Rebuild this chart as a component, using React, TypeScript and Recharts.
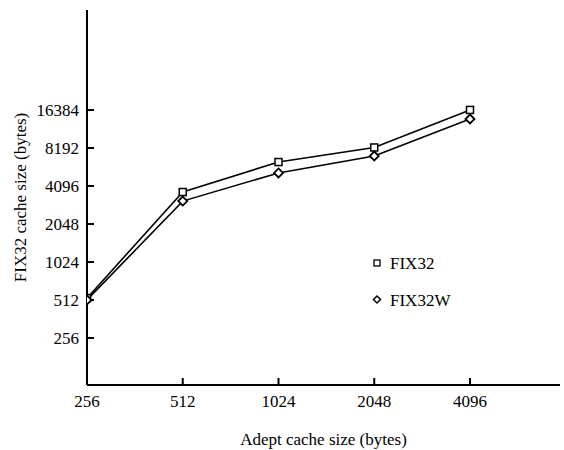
import React from 'react';
import { LineChart, Line, XAxis, YAxis, Legend } from 'recharts';

// Adept cache size (bytes) on the x axis
const adeptSizes = [256, 512, 1024, 2048, 4096];
// FIX32 cache size (bytes)
const fix32 = [530, 3670, 6340, 8270, 16400];
const fix32w = [512, 3110, 5200, 7080, 13900];

const xTicks = [256, 512, 1024, 2048, 4096];
const yTicks = [256, 512, 1024, 2048, 4096, 8192, 16384];

const xDomain = [256, 7859];
const yDomain = [108.6, 101530];

const FONT = '"Liberation Serif", "Times New Roman", serif';

const data = adeptSizes.map((x, i) => ({ x, fix32: fix32[i], fix32w: fix32w[i] }));

const SquareDot = (props: any) => {
  const { cx, cy, index } = props;
  if (cx == null || cy == null) return null;
  return (
    <rect
      key={`sq-${index}`}
      x={cx - 3.5}
      y={cy - 3.5}
      width={7}
      height={7}
      fill="#fff"
      stroke="#000"
      strokeWidth={1.5}
    />
  );
};

const DiamondDot = (props: any) => {
  const { cx, cy, index } = props;
  if (cx == null || cy == null) return null;
  return (
    <path
      key={`dm-${index}`}
      d={`M${cx},${cy - 4.5}L${cx + 4.5},${cy}L${cx},${cy + 4.5}L${cx - 4.5},${cy}Z`}
      fill="#fff"
      stroke="#000"
      strokeWidth={1.8}
    />
  );
};

const renderLegend = () => (
  <svg width={130} height={75} style={{ display: 'block' }}>
    <rect x={14} y={15} width={6} height={6} fill="#fff" stroke="#000" strokeWidth={1.3} />
    <text x={30} y={24} fontFamily={FONT} fontSize={17} fill="#000">FIX32</text>
    <path d="M17,51L20.5,54.5L17,58L13.5,54.5Z" fill="#fff" stroke="#000" strokeWidth={1.5} />
    <text x={30} y={61} fontFamily={FONT} fontSize={17} fill="#000">FIX32W</text>
  </svg>
);

export default function App() {
  const tickStyle = { fontFamily: FONT, fontSize: 17, fill: '#000' };
  return (
    <div style={{ position: 'absolute', left: 0, top: 0, background: '#fff' }}>
      <LineChart
        width={564}
        height={450}
        data={data}
        margin={{ top: 10, right: 4, bottom: 0, left: 0 }}
      >
        <XAxis
          dataKey="x"
          type="number"
          scale="log"
          domain={xDomain}
          allowDataOverflow
          ticks={xTicks}
          height={65}
          tick={tickStyle}
          tickSize={-7}
          tickMargin={17}
          axisLine={{ stroke: '#000', strokeWidth: 2 }}
          tickLine={{ stroke: '#000', strokeWidth: 2 }}
          label={{
            value: 'Adept cache size (bytes)',
            position: 'insideBottom',
            offset: 5,
            style: { fontFamily: FONT, fontSize: 17, fill: '#000' },
          }}
        />
        <XAxis
          xAxisId="top"
          dataKey="x"
          type="number"
          scale="log"
          orientation="top"
          domain={xDomain}
          allowDataOverflow
          height={0}
          tick={false}
          tickLine={false}
          axisLine={{ stroke: '#000', strokeWidth: 2 }}
        />
        <YAxis
          type="number"
          scale="log"
          domain={yDomain}
          allowDataOverflow
          ticks={yTicks}
          width={87}
          tick={tickStyle}
          tickSize={-7}
          tickMargin={15}
          axisLine={{ stroke: '#000', strokeWidth: 2 }}
          tickLine={{ stroke: '#000', strokeWidth: 2 }}
          label={{
            value: 'FIX32 cache size (bytes)',
            angle: -90,
            position: 'insideLeft',
            offset: 20,
            style: { fontFamily: FONT, fontSize: 17, fill: '#000', textAnchor: 'middle' },
          }}
        />
        <Legend
          layout="horizontal"
          verticalAlign="middle"
          align="center"
          content={renderLegend}
          wrapperStyle={{ left: 360, top: 245, width: 130, height: 75 }}
        />
        <Line
          dataKey="fix32"
          name="FIX32"
          stroke="#000"
          strokeWidth={1.6}
          dot={SquareDot}
          isAnimationActive={false}
        />
        <Line
          dataKey="fix32w"
          name="FIX32W"
          stroke="#000"
          strokeWidth={1.6}
          dot={DiamondDot}
          isAnimationActive={false}
        />
      </LineChart>
    </div>
  );
}
